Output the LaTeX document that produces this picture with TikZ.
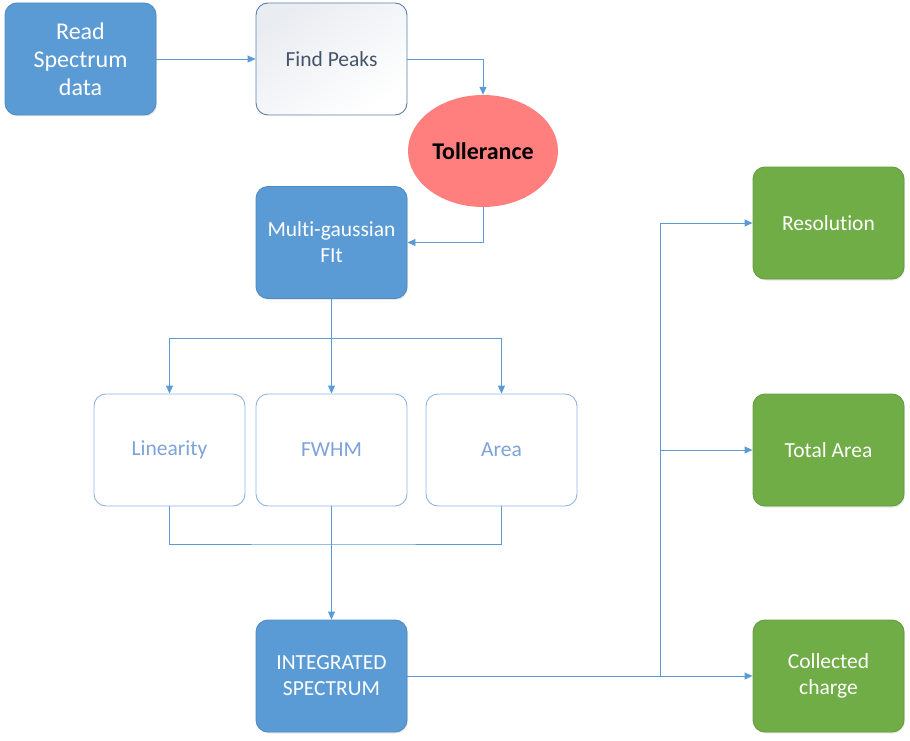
\documentclass[tikz,border=0pt]{standalone}
\usepackage{fontspec}
\setmainfont{Carlito}[Ligatures=NoCommon]
\usetikzlibrary{arrows.meta, shadows, shapes.geometric}
\definecolor{boxblue}{HTML}{5B9BD5}
\definecolor{boxgreen}{HTML}{70AD47}
\definecolor{tolred}{HTML}{FF7F7F}
\definecolor{peakline}{HTML}{5A7FA8}
\definecolor{peaktext}{HTML}{44546A}
\definecolor{peakshade}{HTML}{E9ECF1}
\definecolor{lightline}{HTML}{8FB4E3}
\definecolor{lighttext}{HTML}{7DA3D9}
\tikzset{
  block/.style={rounded corners=12pt, minimum width=151pt, minimum height=112pt,
    align=center, inner sep=0pt, line width=0.9pt},
  bluebox/.style={block, fill=boxblue, draw=boxblue!90!black, text=white,
    drop shadow={opacity=0.18, shadow xshift=1pt, shadow yshift=-1.5pt}},
  greenbox/.style={block, fill=boxgreen, draw=boxgreen!90!black, text=white,
    drop shadow={opacity=0.18, shadow xshift=1pt, shadow yshift=-1.5pt}},
  peakbox/.style={block, draw=peakline, text=peaktext, top color=peakshade, bottom color=white,
    shading angle=35},
  lightbox/.style={block, draw=lightline, text=lighttext, fill=white},
  tolshape/.style={ellipse, fill=tolred, minimum width=150pt, minimum height=112pt,
    inner sep=0pt, font=\fontsize{24pt}{28pt}\selectfont\bfseries},
  conn/.style={draw=boxblue, line width=0.9pt},
  arr/.style={conn, -{Triangle[length=8pt, width=7pt]}},
  mid/.style={font=\fontsize{21.5pt}{26pt}\selectfont},
  big/.style={font=\fontsize{24pt}{28pt}\selectfont}
}
\begin{document}
\begin{tikzpicture}[x=1pt, y=-1pt]
  \useasboundingbox (0,0) rectangle (910,741);
  % top row
  \node[bluebox, big] (read) at (80.5,59) {Read\\Spectrum\\data};
  \node[peakbox, mid] (peaks) at (331.5,59) {Find Peaks};
  \node[tolshape] (toll) at (483,151) {Tollerance};
  \node[bluebox, mid] (fit) at (331.5,242.5) {Multi-gaussian\\FIt};
  % parameters
  \node[lightbox, mid] (lin) at (169.5,450) {Linearity};
  \node[lightbox, mid] (fwhm) at (331.5,450) {FWHM};
  \node[lightbox, mid] (area) at (501.5,450) {Area};
  \node[bluebox, mid] (integ) at (331.5,676) {INTEGRATED\\SPECTRUM};
  % results
  \node[greenbox, mid] (res) at (828.5,223) {Resolution};
  \node[greenbox, mid] (tot) at (828.5,450) {Total Area};
  \node[greenbox, mid] (charge) at (828.5,676) {Collected\\charge};
  \coordinate (split) at (331.5,338);
  \coordinate (join) at (331.5,544);
  \coordinate (fork) at (660,676);

  \draw[arr] (read) -- (peaks);
  \draw[arr] (peaks.east) -| (toll.north);
  \draw[arr] (toll.south) |- (fit.east);
  \draw[arr] (fit.south) -- (fwhm.north);
  \draw[arr] (split) -| (lin.north);
  \draw[arr] (split) -| (area.north);
  \draw[conn] (lin.south) |- (join) -| (area.south);
  \draw[arr] (fwhm.south) -- (integ.north);
  \draw[arr] (integ.east) -- (charge.west);
  \draw[arr] (fork) |- (res.west);
  \draw[arr] (fork) |- (tot.west);
\end{tikzpicture}
\end{document}
